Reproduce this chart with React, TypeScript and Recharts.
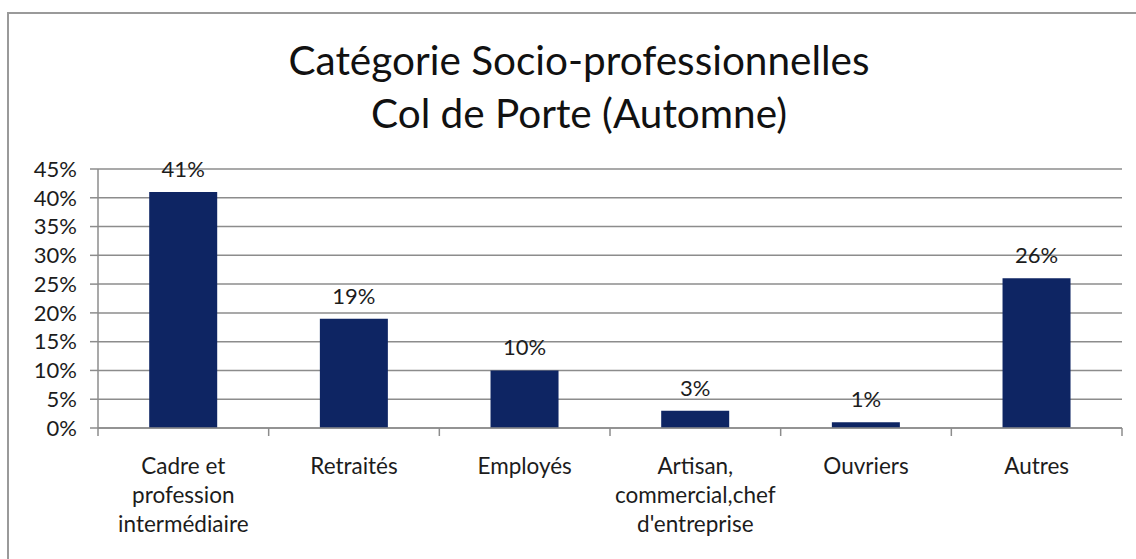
import React from 'react';
import { BarChart, Bar, XAxis, YAxis, CartesianGrid, LabelList } from 'recharts';

const categories = [
    'Cadre et profession intermédiaire',
    'Retraités',
    'Employés',
    "Artisan, commercial,chef d'entreprise",
    'Ouvriers',
    'Autres',
];
const categoryLines = [
    ['Cadre et', 'profession', 'intermédiaire'],
    ['Retraités'],
    ['Employés'],
    ['Artisan,', 'commercial,chef', "d'entreprise"],
    ['Ouvriers'],
    ['Autres'],
];
const shares = [41, 19, 10, 3, 1, 26];
const yTicks = [0, 5, 10, 15, 20, 25, 30, 35, 40, 45];

const FONT = 'Lato, "Open Sans", sans-serif';
const TEXT = '#1c1c1c';
const GRID = '#8c8c8c';
const TICK_LEN = 8;

// label lines + tick marks at the category boundaries (like Excel)
const CategoryTick = (props: any) => {
    const { x, y, index, width } = props;
    const lines = categoryLines[index] || [];
    const band = (Number(width) || 1024) / categoryLines.length;
    const left = x - band / 2;
    const right = x + band / 2;
    return (
        <g>
            <line x1={left} x2={left} y1={y - TICK_LEN} y2={y} stroke={GRID} strokeWidth={1.5} />
            {index === categoryLines.length - 1 && (
                <line x1={right} x2={right} y1={y - TICK_LEN} y2={y} stroke={GRID} strokeWidth={1.5} />
            )}
            <text x={x} y={y} textAnchor="middle" fill={TEXT} fontSize={22.5} fontFamily={FONT}>
                {lines.map((line, i) => (
                    <tspan key={i} x={x} dy={i === 0 ? 38 : 29}>{line}</tspan>
                ))}
            </text>
        </g>
    );
};

const App: React.FC = () => {
    const data = categories.map((name, i) => ({ name, value: shares[i] }));

    return (
        <div style={{ position: 'absolute', left: 0, top: 0, width: 1136, height: 559, background: '#fff', overflow: 'hidden' }}>
            <div style={{ position: 'absolute', left: 7, top: 12, width: 1200, height: 600, border: '2px solid #9a9a9a', boxSizing: 'border-box' }} />
            <div
                style={{
                    position: 'absolute', left: 0, width: 1158, top: 33, textAlign: 'center',
                    fontFamily: FONT, fontSize: 40.5, lineHeight: '53px', color: '#111',
                }}
            >
                Catégorie Socio-professionnelles
                <br />
                Col de Porte (Automne)
            </div>
            <div style={{ position: 'absolute', left: 0, top: 0 }}>
                <BarChart
                    width={1136}
                    height={559}
                    data={data}
                    margin={{ top: 169, right: 14, bottom: 1, left: 0 }}
                    barCategoryGap="30%"
                >
                    <CartesianGrid horizontal vertical={false} stroke={GRID} strokeWidth={1.5} />
                    <XAxis
                        dataKey="name"
                        height={130}
                        axisLine={{ stroke: GRID, strokeWidth: 1.5 }}
                        tickLine={false}
                        tickSize={TICK_LEN}
                        tickMargin={0}
                        interval={0}
                        tick={<CategoryTick />}
                    />
                    <YAxis
                        width={98}
                        domain={[0, 45]}
                        ticks={yTicks}
                        interval={0}
                        tickSize={TICK_LEN}
                        tickMargin={13}
                        axisLine={{ stroke: GRID, strokeWidth: 1.5 }}
                        tickLine={{ stroke: GRID, strokeWidth: 1.5 }}
                        tickFormatter={(v: number) => `${v}%`}
                        tick={{ fill: TEXT, fontSize: 22, fontFamily: FONT }}
                    />
                    <Bar dataKey="value" fill="#0E2563" isAnimationActive={false}>
                        <LabelList
                            dataKey="value"
                            position="top"
                            offset={15}
                            formatter={(v: any) => `${v}%`}
                            style={{ fill: TEXT, fontSize: 22, fontFamily: FONT }}
                        />
                    </Bar>
                </BarChart>
            </div>
        </div>
    );
};

export default App;
